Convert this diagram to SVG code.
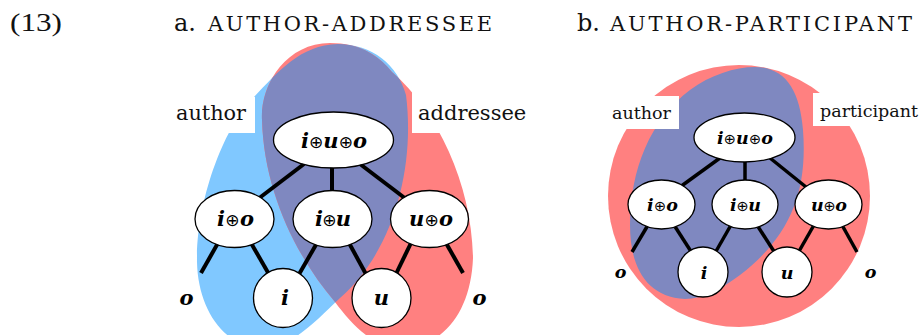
<svg xmlns="http://www.w3.org/2000/svg" width="920" height="335" viewBox="0 0 920 335">
<style>
.ttl{font-family:"DejaVu Serif",serif;fill:#111}
.lbl{font-family:"DejaVu Serif",serif;fill:#111}
.box{fill:#fff}
.nd{fill:#fff;stroke:#000;stroke-width:1.3}
.nt{font-family:"DejaVu Serif",serif;font-weight:bold;font-style:italic;text-anchor:middle;fill:#000}
.op{font-family:"DejaVu Sans",sans-serif;font-weight:normal;font-style:normal}
.edges line{stroke:#000;stroke-width:4;stroke-linecap:butt}
.edgesb line{stroke:#000;stroke-width:3.5;stroke-linecap:butt}
.blue{fill:#80c8ff}
.red{fill:#ff8080}
.pur{fill:#7f88c0}
</style>
<defs>
<path id="blueA" d="M338,44 C372,44 398,65 406,95 C415,165 395,250 340,298 C312,325 290,348 262,348 C225,348 198,310 197,262 C196,200 225,125 254,97 C278,72 300,45 338,44 Z"/>
<path id="redA" d="M330,43 C360,43 378,55 392,72 C438,112 472,185 473,258 C471,310 445,345 405,348 C375,350 352,325 335,302 C295,255 264,190 262,120 C260,85 286,43 330,43 Z"/>
<clipPath id="clipBlueA"><use href="#blueA"/></clipPath>
</defs>

<text class="ttl" x="10" y="31" font-size="25" textLength="52" lengthAdjust="spacingAndGlyphs" style="font-family:'Liberation Serif',serif">(13)</text>

<!-- Panel a -->
<g id="panelA-title">
<text class="ttl" x="174" y="31" font-size="24">a.</text>
<text class="ttl" x="208" y="31" font-size="21" textLength="284" lengthAdjust="spacing">AUTHOR-ADDRESSEE</text>
</g>
<g id="regionsA">
<use href="#blueA" class="blue"/>
<use href="#redA" class="red"/>
<use href="#redA" class="pur" clip-path="url(#clipBlueA)"/>
</g>
<g id="labelA-author">
<rect class="box" x="165" y="97" width="90" height="36"/>
<text class="lbl" x="176" y="120" font-size="21" textLength="70" lengthAdjust="spacingAndGlyphs">author</text>
</g>
<g id="labelA-addressee">
<rect class="box" x="412" y="92" width="125" height="41"/>
<text class="lbl" x="418" y="120" font-size="21">addressee</text>
</g>

<g id="connectorsA" class="edges">
<line x1="304" y1="164" x2="258" y2="199"/>
<line x1="332" y1="166" x2="332" y2="193"/>
<line x1="360" y1="164" x2="406" y2="199"/>
<line x1="218" y1="243" x2="201" y2="273"/>
<line x1="251" y1="243" x2="270" y2="276"/>
<line x1="317" y1="243" x2="298" y2="276"/>
<line x1="349" y1="243" x2="367" y2="276"/>
<line x1="411" y1="243" x2="395" y2="276"/>
<line x1="446" y1="243" x2="463" y2="273"/>
</g>

<g id="a-iuo">
<ellipse class="nd" cx="333.5" cy="140" rx="60" ry="28"/>
<text class="nt" x="334" y="148" font-size="21" textLength="66" lengthAdjust="spacing">i<tspan class="op" font-size="17">⊕</tspan>u<tspan class="op" font-size="17">⊕</tspan>o</text>
</g>
<g id="a-io">
<ellipse class="nd" cx="234.5" cy="219" rx="39.5" ry="28.5"/>
<text class="nt" x="235.5" y="226" font-size="21" textLength="37" lengthAdjust="spacing">i<tspan class="op" font-size="17">⊕</tspan>o</text>
</g>
<g id="a-iu">
<ellipse class="nd" cx="332.5" cy="219" rx="39.5" ry="28.5"/>
<text class="nt" x="333" y="226" font-size="21" textLength="36" lengthAdjust="spacing">i<tspan class="op" font-size="17">⊕</tspan>u</text>
</g>
<g id="a-uo">
<ellipse class="nd" cx="429.5" cy="219" rx="39" ry="28.5"/>
<text class="nt" x="431" y="226" font-size="21" textLength="44" lengthAdjust="spacing">u<tspan class="op" font-size="17">⊕</tspan>o</text>
</g>
<g id="a-i">
<circle class="nd" cx="283" cy="298" r="29.5"/>
<text class="nt" x="285" y="305" font-size="21">i</text>
</g>
<g id="a-u">
<circle class="nd" cx="381.5" cy="298" r="29.5"/>
<text class="nt" x="381.5" y="305" font-size="21">u</text>
</g>
<g id="a-o-left"><text class="nt" x="186.5" y="305" font-size="21">o</text></g>
<g id="a-o-right"><text class="nt" x="479.5" y="305" font-size="21">o</text></g>

<!-- Panel b -->
<g id="panelB-title">
<text class="ttl" x="577" y="31" font-size="24">b.</text>
<text class="ttl" x="610" y="31" font-size="21" textLength="302" lengthAdjust="spacing">AUTHOR-PARTICIPANT</text>
</g>
<g id="regionsB">
<circle class="red" cx="739" cy="196" r="131"/>
<path class="pur" d="M755,67 C785,67 800,90 803,130 C808,195 788,238 740,275 C720,290 703,299 685,299 C645,297 630,265 630,225 C630,170 650,120 690,90 C710,75 735,67 755,67 Z"/>
</g>
<g id="labelB-author">
<rect class="box" x="605" y="96" width="74" height="33"/>
<text class="lbl" x="612" y="119" font-size="17.5" textLength="59" lengthAdjust="spacingAndGlyphs">author</text>
</g>
<g id="labelB-participant">
<rect class="box" x="813" y="93" width="107" height="33"/>
<text class="lbl" x="820" y="117" font-size="17.5" textLength="98" lengthAdjust="spacingAndGlyphs">participant</text>
</g>

<g id="connectorsB" class="edgesb">
<line x1="720" y1="158" x2="680" y2="187"/>
<line x1="745" y1="158" x2="745" y2="183"/>
<line x1="770" y1="158" x2="806" y2="187"/>
<line x1="648" y1="225" x2="632" y2="252"/>
<line x1="674" y1="225" x2="692" y2="253"/>
<line x1="731" y1="225" x2="715" y2="253"/>
<line x1="757" y1="225" x2="775" y2="253"/>
<line x1="814" y1="225" x2="798" y2="253"/>
<line x1="842" y1="225" x2="857" y2="252"/>
</g>

<g id="b-iuo">
<ellipse class="nd" cx="744.5" cy="137.5" rx="50.5" ry="24.5"/>
<text class="nt" x="745" y="144" font-size="17.5" textLength="56" lengthAdjust="spacing">i<tspan class="op" font-size="14.5">⊕</tspan>u<tspan class="op" font-size="14.5">⊕</tspan>o</text>
</g>
<g id="b-io">
<ellipse class="nd" cx="661.5" cy="204.5" rx="33.5" ry="24.5"/>
<text class="nt" x="662.5" y="211" font-size="17.5" textLength="31" lengthAdjust="spacing">i<tspan class="op" font-size="14.5">⊕</tspan>o</text>
</g>
<g id="b-iu">
<ellipse class="nd" cx="745" cy="204.5" rx="33" ry="24.5"/>
<text class="nt" x="745.5" y="211" font-size="17.5" textLength="31" lengthAdjust="spacing">i<tspan class="op" font-size="14.5">⊕</tspan>u</text>
</g>
<g id="b-uo">
<ellipse class="nd" cx="828.5" cy="204.5" rx="33.5" ry="24.5"/>
<text class="nt" x="829" y="211" font-size="17.5" textLength="36" lengthAdjust="spacing">u<tspan class="op" font-size="14.5">⊕</tspan>o</text>
</g>
<g id="b-i">
<circle class="nd" cx="703" cy="272" r="25"/>
<text class="nt" x="704" y="279" font-size="17.5">i</text>
</g>
<g id="b-u">
<circle class="nd" cx="787" cy="272" r="25"/>
<text class="nt" x="787" y="279" font-size="17.5">u</text>
</g>
<g id="b-o-left"><text class="nt" x="620.5" y="278" font-size="17.5">o</text></g>
<g id="b-o-right"><text class="nt" x="870.5" y="278" font-size="17.5">o</text></g>
</svg>
